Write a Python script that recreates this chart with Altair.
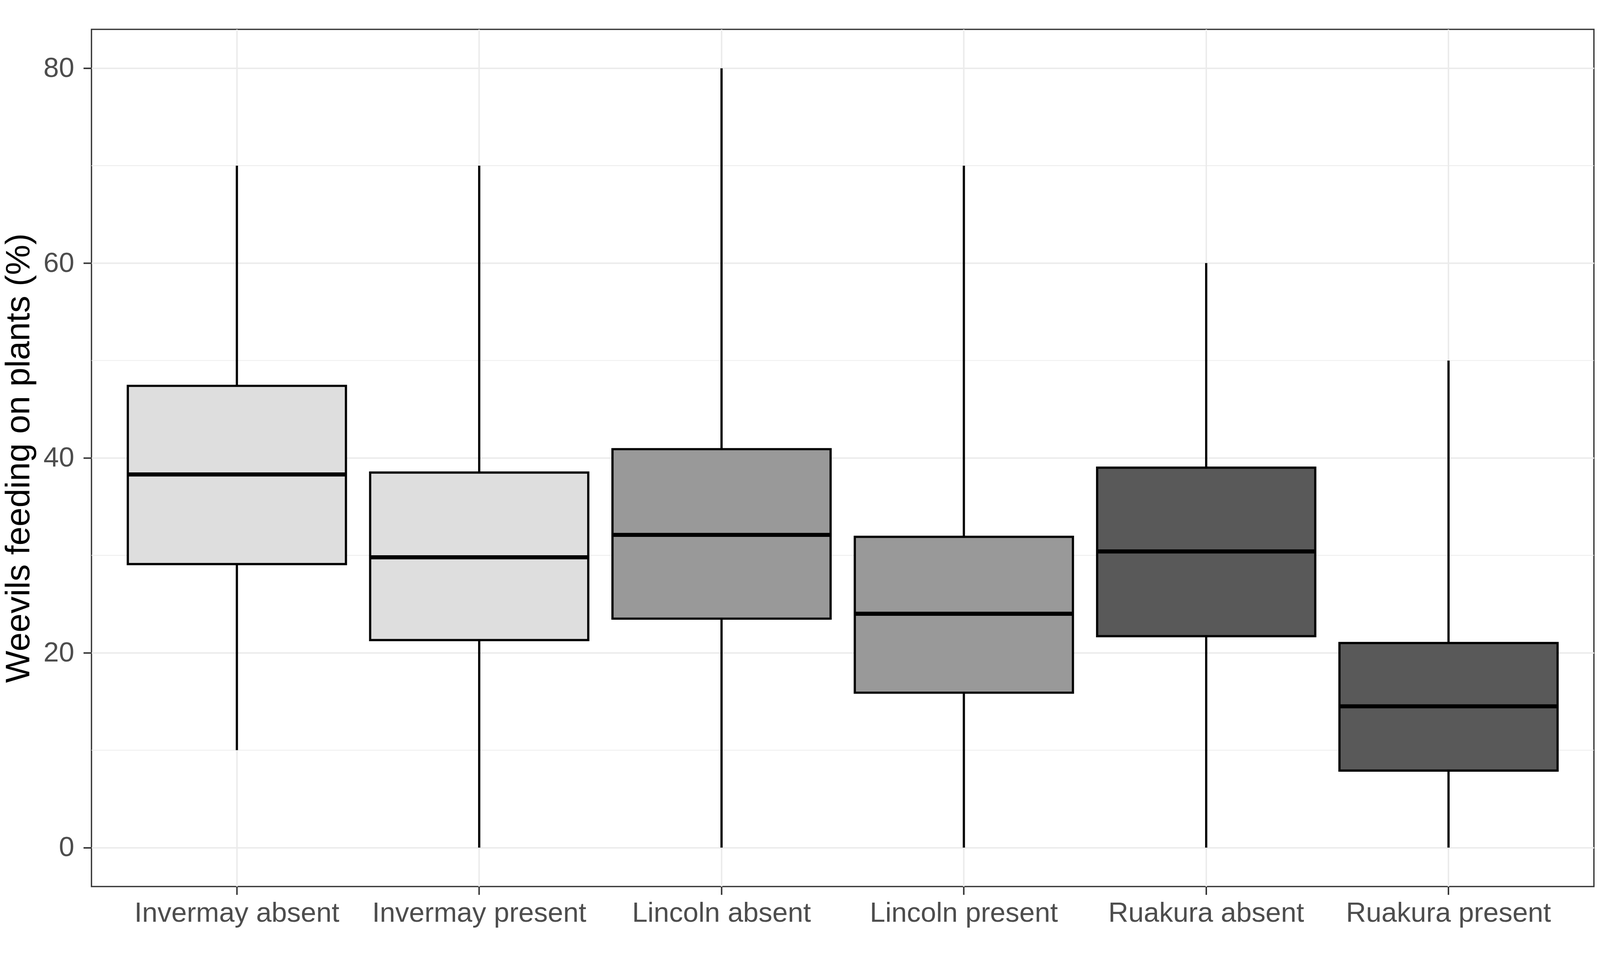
import altair as alt
import pandas as pd

groups = ["Invermay absent", "Invermay present", "Lincoln absent",
          "Lincoln present", "Ruakura absent", "Ruakura present"]
lower = [10, 0, 0, 0, 0, 0]
q1 = [29.1, 21.3, 23.5, 15.9, 21.7, 7.9]
median = [38.3, 29.8, 32.1, 24.0, 30.4, 14.5]
q3 = [47.4, 38.5, 40.9, 31.9, 39.0, 21.0]
upper = [70, 70, 80, 70, 60, 50]
fills = ["#DEDEDE", "#DEDEDE", "#999999", "#999999", "#595959", "#595959"]
minor_grid = [10, 30, 50, 70]
major_ticks = [0, 20, 40, 60, 80]

df = pd.DataFrame({"group": groups, "lower": lower, "q1": q1, "median": median,
                   "q3": q3, "upper": upper, "fill": fills})
minor_df = pd.DataFrame({"v": minor_grid})

FONT = "Liberation Sans"

xenc = alt.X("group:N", sort=groups,
             scale=alt.Scale(paddingInner=0, paddingOuter=0.1),
             axis=alt.Axis(title=None, labelAngle=0, labelFontSize=75,
                           labelColor="#4D4D4D", labelFont=FONT, labelPadding=14,
                           labelLimit=0, labelOverlap=False,
                           tickSize=22, tickWidth=4, tickColor="#333333",
                           domain=False, grid=True, gridColor="#EBEBEB",
                           gridWidth=4, labelBaseline="top"))
yscale = alt.Scale(domain=[-4, 84], nice=False, zero=False)
yaxis = alt.Axis(title="Weevils feeding on plants (%)", values=major_ticks,
                 labelFontSize=75, labelColor="#4D4D4D", labelFont=FONT,
                 labelPadding=25, tickSize=22, tickWidth=4, tickColor="#333333",
                 domain=False, grid=True, gridColor="#EBEBEB", gridWidth=4,
                 titleFont=FONT, titleFontSize=92, titleColor="#000000",
                 titleFontWeight="normal", titleAngle=270, titleX=-169,
                 titleAlign="center", titleBaseline="alphabetic")

minor = alt.Chart(minor_df).mark_rule(color="#EBEBEB", strokeWidth=2).encode(
    y=alt.Y("v:Q", scale=yscale, axis=yaxis)
)

base = alt.Chart(df)

whisk = base.mark_rule(color="#000000", strokeWidth=6).encode(
    x=xenc,
    y=alt.Y("lower:Q", scale=yscale, axis=yaxis),
    y2="upper:Q",
)

box = base.mark_bar(stroke="#000000", strokeWidth=6, size=590).encode(
    x=xenc,
    y=alt.Y("q1:Q", scale=yscale, axis=yaxis),
    y2="q3:Q",
    fill=alt.Fill("fill:N", scale=None),
)

med = base.mark_tick(color="#000000", opacity=1, thickness=11, size=594).encode(
    x=xenc,
    y=alt.Y("median:Q", scale=yscale, axis=yaxis),
)

chart = alt.layer(minor, whisk, box, med).properties(
    width=4064, height=2318,
    autosize=alt.AutoSizeParams(type="none"),
    padding={"left": 239, "top": 2, "right": 8, "bottom": 112},
    background="#FFFFFF",
).configure_view(stroke="#333333", strokeWidth=3.5, fill="#FFFFFF"
).configure_axis(labelFont=FONT, titleFont=FONT)

chart.save("out.html", embed_options={"renderer": "svg", "actions": False})
